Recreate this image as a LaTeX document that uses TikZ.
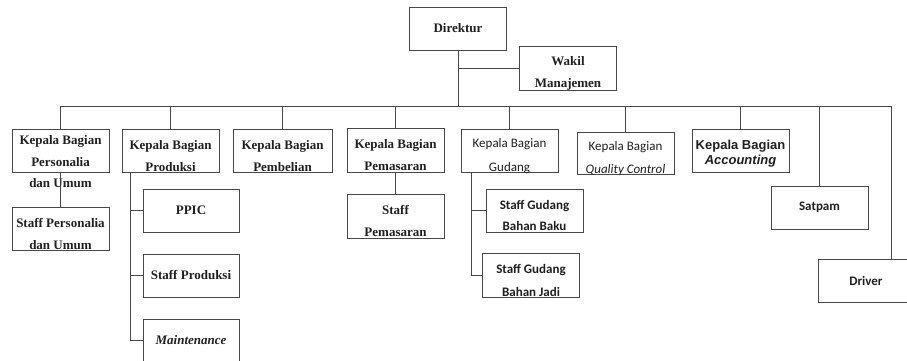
\documentclass[tikz,border=0pt]{standalone}
\usepackage{fontspec}
\setmainfont{Liberation Serif}
\newfontfamily\calibf{Carlito}
\newfontfamily\arialf{Liberation Sans}
\tikzset{
  box/.style={rectangle, draw=black!72, line width=0.8pt, minimum width=97pt, minimum height=43pt, inner sep=0pt},
  ln/.style={draw=black!72, line width=0.8pt},
  tx/.style={anchor=base, inner sep=0pt, text=black!88},
  sr/.style={tx, font=\fontsize{13}{15}\selectfont\bfseries},
  sri/.style={tx, font=\fontsize{13}{15}\selectfont\bfseries\itshape},
  ca/.style={tx, font=\calibf\fontsize{13}{15}\selectfont},
  cai/.style={tx, font=\calibf\fontsize{13}{15}\selectfont\itshape},
  cab/.style={tx, font=\calibf\fontsize{13}{15}\selectfont\bfseries},
  ar/.style={tx, font=\arialf\fontsize{13}{15}\selectfont\bfseries},
  ari/.style={tx, font=\arialf\fontsize{13}{15}\selectfont\bfseries\itshape},
}
\begin{document}
\begin{tikzpicture}[x=1pt,y=-1pt]
\useasboundingbox (0,0) rectangle (907,361);
\clip (0,0) rectangle (907,361);
% boxes
\node[box] (dir) at (458,28.5) {};
\node[box, minimum height=44pt] (wak) at (568,68) {};
\node[box] (per) at (60.5,150.5) {};
\node[box] (prod) at (170.5,150.5) {};
\node[box, minimum width=99pt] (beli) at (282.5,150.5) {};
\node[box, minimum height=44pt] (pem) at (395.5,150) {};
\node[box] (gud) at (509.5,150.5) {};
\node[box, minimum height=42pt] (qc) at (625.5,153) {};
\node[box] (acc) at (740.5,150.5) {};
\node[box] (sat) at (819.5,207.5) {};
\node[box] (drv) at (866.5,280.5) {};
\node[box] (sper) at (60.5,228.5) {};
\node[box, minimum width=96pt] (ppic) at (191,210.5) {};
\node[box, minimum width=96pt] (sprod) at (191,275.5) {};
\node[box, minimum width=96pt] (maint) at (191,340.5) {};
\node[box, minimum height=44pt] (spem) at (395.5,216) {};
\node[box] (sgbb) at (534.5,210.5) {};
\node[box, minimum height=44pt] (sgbj) at (531,275) {};
% connectors
\coordinate (barL) at (60.5,106);
\coordinate (barR) at (891,106);
\draw[ln] (dir.south) -- (dir.south |- barL);
\draw[ln] (wak.west) -- (wak.west -| dir.south);
\draw[ln] (barL) -- (barR);
\foreach \n in {per,prod,beli,pem,gud,qc,acc,sat}{
  \draw[ln] (\n.north) -- (\n.north |- barL);
}
\draw[ln] (barR) -- (barR |- drv.north);
\draw[ln] (per.south) -- (sper.north);
\draw[ln] (pem.south) -- (spem.north);
\coordinate (pj) at ([xshift=9pt]prod.south west);
\draw[ln] (pj) |- (maint.west);
\draw[ln] (pj |- ppic.west) -- (ppic.west);
\draw[ln] (pj |- sprod.west) -- (sprod.west);
\coordinate (gj) at ([xshift=11pt]gud.south west);
\draw[ln] (gj) |- (sgbj.west);
\draw[ln] (gj |- sgbb.west) -- (sgbb.west);
% texts
\node[sr] (dirT) at (458,33) {Direktur};
\node[sr] (wakT1) at (568,65.5) {Wakil};
\node[sr] (wakT2) at (568,87) {Manajemen};
\node[sr] (perT1) at (60.5,144.5) {Kepala Bagian};
\node[sr] (perT2) at (60.5,166.5) {Personalia};
\node[sr] (perT3) at (60.5,187.5) {dan Umum};
\node[sr] (prodT1) at (170.5,149) {Kepala Bagian};
\node[sr] (prodT2) at (170.5,171) {Produksi};
\node[sr] (beliT1) at (282.5,149) {Kepala Bagian};
\node[sr] (beliT2) at (282.5,171) {Pembelian};
\node[sr] (pemT1) at (395.5,148.3) {Kepala Bagian};
\node[sr] (pemT2) at (395.5,170) {Pemasaran};
\node[ca] (gudT1) at (509.5,147.7) {Kepala Bagian};
\node[ca] (gudT2) at (509.5,171) {Gudang};
\node[ca] (qcT1) at (625.5,150) {Kepala Bagian};
\node[cai] (qcT2) at (625.5,173.3) {Quality Control};
\node[ar] (accT1) at (740.5,149) {Kepala Bagian};
\node[ari] (accT2) at (740.5,164) {Accounting};
\node[cab] (satT) at (819.5,210) {Satpam};
\node[cab] (drvT) at (866,285) {Driver};
\node[sr] (sperT1) at (60.5,227.3) {Staff Personalia};
\node[sr] (sperT2) at (60.5,249) {dan Umum};
\node[sr] (ppicT) at (191,214.3) {PPIC};
\node[sr] (sprodT) at (191,279.3) {Staff Produksi};
\node[sri] (maintT) at (191,344.3) {Maintenance};
\node[sr] (spemT1) at (395.5,214.3) {Staff};
\node[sr] (spemT2) at (395.5,236) {Pemasaran};
\node[cab] (sgbbT1) at (534.5,209.3) {Staff Gudang};
\node[cab] (sgbbT2) at (534.5,230.7) {Bahan Baku};
\node[cab] (sgbjT1) at (531,273.3) {Staff Gudang};
\node[cab] (sgbjT2) at (531,296.7) {Bahan Jadi};
\end{tikzpicture}
\end{document}
